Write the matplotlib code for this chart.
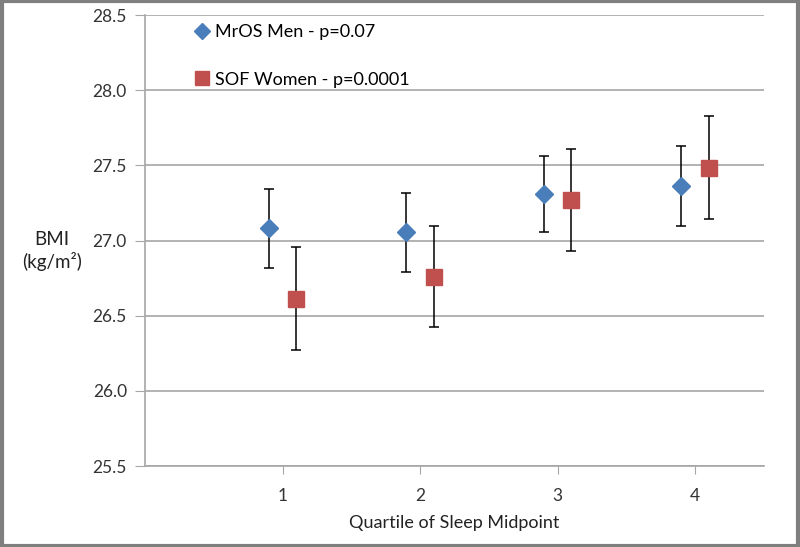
import matplotlib.pyplot as plt
import numpy as np

# data
quartiles = [1, 2, 3, 4]
mros_bmi = [27.08, 27.055, 27.31, 27.363]
mros_err = [0.26, 0.262, 0.255, 0.265]
sof_bmi = [26.612, 26.76, 27.27, 27.485]
sof_err = [0.342, 0.335, 0.338, 0.345]

blue = '#4A7EBB'
red = '#C0504D'
grid_col = '#A6A6A6'

plt.rcParams['font.family'] = ['Lato', 'DejaVu Sans']

fig = plt.figure(figsize=(8, 5.47), dpi=100)
ax = fig.add_axes([145 / 800, 1 - 466 / 547, (764 - 145) / 800, (466 - 15) / 547])

x = np.array(quartiles, dtype=float)
ax.errorbar(x - 0.1, mros_bmi, yerr=mros_err, fmt='D', color=blue, ms=9.5,
            ecolor='black', elinewidth=1.1, capsize=3.5, capthick=1.1,
            label='MrOS Men - p=0.07', zorder=3)
ax.errorbar(x + 0.1, sof_bmi, yerr=sof_err, fmt='s', color=red, ms=11.5,
            ecolor='black', elinewidth=1.1, capsize=3.5, capthick=1.1,
            label='SOF Women - p=0.0001', zorder=3)

ax.set_xlim(0, 4.5)
ax.set_ylim(25.5, 28.5)
ax.set_yticks(np.arange(25.5, 28.51, 0.5))
ax.set_yticklabels(['%.1f' % v for v in np.arange(25.5, 28.51, 0.5)])
ax.set_xticks(quartiles)
ax.yaxis.grid(True, color=grid_col, lw=1.2)
ax.set_axisbelow(True)

for s in ['top', 'right']:
    ax.spines[s].set_visible(False)
for s in ['left', 'bottom']:
    ax.spines[s].set_color(grid_col)
    ax.spines[s].set_linewidth(1.2)
ax.tick_params(axis='y', colors=grid_col, labelcolor='#333333', labelsize=12.5, length=7, pad=6)
ax.tick_params(axis='x', colors=grid_col, labelcolor='#333333', labelsize=12.5, length=6, pad=10)

ax.set_xlabel('Quartile of Sleep Midpoint', fontsize=13, color='#222222', labelpad=8)
fig.text(52 / 800, 1 - 251 / 547, 'BMI\n(kg/m²)', fontsize=13.5, color='#222222',
         ha='center', va='center', linespacing=1.25)

handles, labels = ax.get_legend_handles_labels()
handles = [h[0] for h in handles]
leg = ax.legend(handles, labels, loc='upper left', bbox_to_anchor=(0.057, 1.015),
                frameon=False, fontsize=13, labelspacing=1.72, handlelength=0.6,
                handletextpad=0.4, markerscale=0.85)

# grey outer frame
fig.patches.append(plt.Rectangle((0.002, 0.002), 0.996, 0.996, transform=fig.transFigure,
                                 fill=False, edgecolor='#7F7F7F', lw=3))

fig.savefig('out.png', dpi=100)
